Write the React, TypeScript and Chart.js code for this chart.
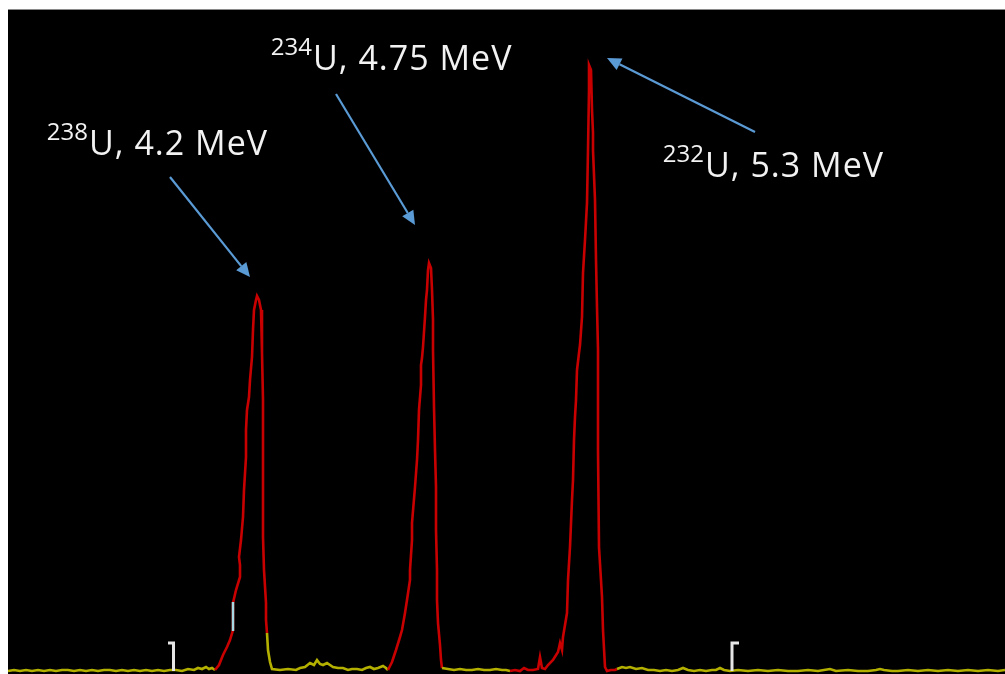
import React, { useEffect, useRef } from "react";
import { Chart, registerables } from "chart.js";

Chart.register(...registerables);

// Channel numbers and counts of the alpha spectrum
const spectrumChannels = [
  0, 6, 12, 18, 24, 30, 36, 42, 48, 54, 60, 66, 72, 78, 84, 90, 96, 102, 108, 114, 120, 126, 132, 138, 144, 150, 156, 162, 168, 174, 180, 186, 190, 194, 198, 201, 204,
  207, 211, 215, 219, 222, 225, 225, 225, 228, 232, 232, 231, 233, 235, 236, 238, 238, 239, 241, 242, 244, 245, 246, 248, 249, 251, 253, 254, 254, 255, 255, 255, 255, 256, 258, 258, 259, 260, 262, 264,
  272, 280, 288, 292, 297, 302, 306, 309, 312, 315, 319, 325, 330, 335, 340, 344, 349, 354, 358, 362, 366, 370, 375, 378,
  380, 384, 388, 392, 394, 397, 399, 402, 402, 404, 404, 407, 409, 410, 411, 413, 413, 414, 415, 417, 418, 419, 420, 421, 423, 424, 425, 425, 426, 427, 428, 428, 429, 429, 430, 432, 433, 434,
  440, 446, 452, 458, 464, 470, 476, 482, 488, 494, 498,
  502, 507, 512, 516, 520, 525, 530, 532, 534, 537, 540, 545, 550, 552, 554, 555, 559, 560, 562, 564, 565, 566, 567, 568, 569, 571, 572, 574, 575, 577, 579, 580, 581, 581, 583, 584, 585, 585, 587, 588, 589, 590, 590, 591, 594, 595, 597, 599, 603, 607, 609,
  614, 618, 622, 628, 634, 640, 646, 652, 658, 664, 670, 675, 680, 686, 692, 698, 704, 708, 712, 716, 722, 730, 740, 750, 760, 770, 780, 790, 800, 810, 816, 822, 828, 840, 850, 860, 868, 872, 876, 884, 890, 900, 910, 920, 930, 940, 950, 960, 970, 980, 990, 997,
];
const spectrumCounts = [
  0, 1, 0, 1, 0, 1, 0, 1, 0, 1, 1, 0, 1, 0, 1, 0, 1, 1, 0, 1, 0, 1, 0, 1, 0, 1, 0, 1, 1, 0, 2, 1, 3, 2, 4, 2, 3,
  1, 6, 16, 24, 31, 41, 56, 68, 81, 94, 106, 114, 131, 154, 181, 214, 241, 261, 274, 291, 314, 341, 361, 371, 375, 371, 361, 341, 318, 271, 234, 191, 134, 101, 68, 51, 38, 21, 9, 2,
  1, 2, 1, 3, 4, 8, 6, 11, 7, 6, 8, 4, 3, 3, 1, 2, 2, 1, 3, 4, 2, 3, 5, 3,
  1, 9, 21, 34, 41, 58, 71, 91, 101, 131, 148, 184, 211, 231, 261, 286, 306, 313, 324, 354, 371, 381, 401, 408, 403, 381, 351, 321, 264, 221, 184, 141, 101, 71, 48, 26, 11, 3,
  2, 1, 2, 1, 1, 2, 1, 1, 2, 1, 1,
  0, 1, 0, 3, 1, 1, 2, 14, 3, 2, 6, 11, 19, 28, 21, 34, 58, 91, 124, 171, 191, 231, 254, 271, 301, 318, 326, 354, 398, 431, 468, 521, 581, 606, 601, 561, 538, 521, 471, 411, 364, 321, 221, 124, 74, 41, 4, 0, 1, 1, 2,
  4, 3, 4, 2, 3, 1, 1, 0, 1, 0, 1, 3, 1, 0, 1, 0, 1, 1, 3, 1, 0, 1, 0, 1, 0, 1, 0, 0, 1, 0, 1, 2, 0, 1, 0, 0, 1, 2, 1, 0, 0, 1, 0, 1, 0, 1, 0, 1, 0, 1, 0, 1,
];

// Regions of interest (drawn red), as channel ranges
const roiStart = [207, 380, 502];
const roiEnd = [259, 434, 609];

// ROI bracket markers
const bracketHookChannels = [160, 731];
const bracketChannels = [165.5, 724];
const bracketHeight = 28;

// Cursor marker on the first peak
const cursorChannel = 225;
const cursorCounts = [40, 69];

// Peak labels
const labelIsotopes = ["238", "234", "232"];
const labelTexts = ["U, 4.2 MeV", "U, 4.75 MeV", "U, 5.3 MeV"];
// label anchors (channel, counts) and arrows from -> to (channel, counts)
const labelChannels = [81, 305, 697];
const labelCounts = [516, 601, 494];
const arrowFromChannels = [162, 328, 747];
const arrowFromCounts = [494, 577, 539];
const arrowToChannels = [242, 407, 599];
const arrowToCounts = [394, 446, 613];

const RED = "#c80000";
const YELLOW = "#b4b000";
const BLUE = "#5b9bd5";

function inRoi(a: number, b: number) {
  for (let i = 0; i < roiStart.length; i++) {
    if (a >= roiStart[i] && b <= roiEnd[i]) return true;
  }
  return false;
}

const annotationPlugin = {
  id: "peakLabels",
  afterDatasetsDraw(chart: any) {
    const { ctx } = chart;
    const xs = chart.scales.x;
    const ys = chart.scales.y;
    ctx.save();
    for (let i = 0; i < labelTexts.length; i++) {
      const x0 = xs.getPixelForValue(arrowFromChannels[i]);
      const y0 = ys.getPixelForValue(arrowFromCounts[i]);
      const x1 = xs.getPixelForValue(arrowToChannels[i]);
      const y1 = ys.getPixelForValue(arrowToCounts[i]);
      const ang = Math.atan2(y1 - y0, x1 - x0);
      const headLen = 14;
      const headW = 6.5;
      const bx = x1 - headLen * Math.cos(ang);
      const by = y1 - headLen * Math.sin(ang);
      ctx.strokeStyle = BLUE;
      ctx.fillStyle = BLUE;
      ctx.lineWidth = 2.2;
      ctx.beginPath();
      ctx.moveTo(x0, y0);
      ctx.lineTo(bx, by);
      ctx.stroke();
      ctx.beginPath();
      ctx.moveTo(x1, y1);
      ctx.lineTo(bx + headW * Math.sin(ang), by - headW * Math.cos(ang));
      ctx.lineTo(bx - headW * Math.sin(ang), by + headW * Math.cos(ang));
      ctx.closePath();
      ctx.fill();

      const px = xs.getPixelForValue(labelChannels[i]);
      const py = ys.getPixelForValue(labelCounts[i]);
      ctx.fillStyle = "#f2f2f2";
      ctx.textBaseline = "alphabetic";
      ctx.textAlign = "left";
      ctx.font = '34px "Open Sans"';
      try { (ctx as any).letterSpacing = "1px"; } catch (e) {}
      ctx.fillText(labelTexts[i], px, py);
      try { (ctx as any).letterSpacing = "0px"; } catch (e) {}
      ctx.font = '24px "Open Sans"';
      ctx.textAlign = "right";
      ctx.fillText(labelIsotopes[i], px - 1, py - 15);
    }
    ctx.restore();
  },
};

export default function App() {
  const canvasRef = useRef<HTMLCanvasElement | null>(null);

  useEffect(() => {
    if (!canvasRef.current) return;
    const spectrum = spectrumChannels.map((c, i) => ({ x: c, y: spectrumCounts[i] }));
    const bracketSets = bracketChannels.map((c, i) => ({
      data: [
        { x: bracketHookChannels[i], y: bracketHeight },
        { x: c, y: bracketHeight },
        { x: c, y: 0 },
      ],
      borderColor: "#e6e6e6",
      borderWidth: 3,
      pointRadius: 0,
      tension: 0,
      order: 0,
      clip: false as any,
    }));
    const chart = new Chart(canvasRef.current, {
      type: "line",
      data: {
        datasets: [
          {
            data: spectrum,
            borderColor: YELLOW,
            borderWidth: 2.6,
            pointRadius: 0,
            tension: 0,
            order: 2,
            clip: false as any,
            segment: {
              borderColor: (ctx: any) => (inRoi(ctx.p0.parsed.x, ctx.p1.parsed.x) ? RED : YELLOW),
            },
          } as any,
          {
            data: [
              { x: cursorChannel, y: cursorCounts[0] },
              { x: cursorChannel, y: cursorCounts[1] },
            ],
            borderColor: "#a8d8e2",
            borderWidth: 2.5,
            pointRadius: 0,
            order: 0,
            clip: false as any,
          },
          ...bracketSets,
        ],
      },
      options: {
        animation: false,
        responsive: false,
        maintainAspectRatio: false,
        layout: { padding: { top: 0, left: 0, right: 0, bottom: 3 } },
        plugins: { legend: { display: false }, tooltip: { enabled: false } },
        scales: {
          x: { type: "linear", min: 0, max: 997, display: false },
          y: { type: "linear", min: 0, max: 661, display: false },
        },
      },
      plugins: [annotationPlugin],
    });
    return () => chart.destroy();
  }, []);

  return (
    <div
      style={{
        position: "absolute",
        left: 8,
        top: 9,
        width: 997,
        height: 664,
        borderTop: "1px solid #8a8a8a",
        background: "#000",
      }}
    >
      <canvas ref={canvasRef} width={997} height={664} style={{ display: "block" }} />
    </div>
  );
}
